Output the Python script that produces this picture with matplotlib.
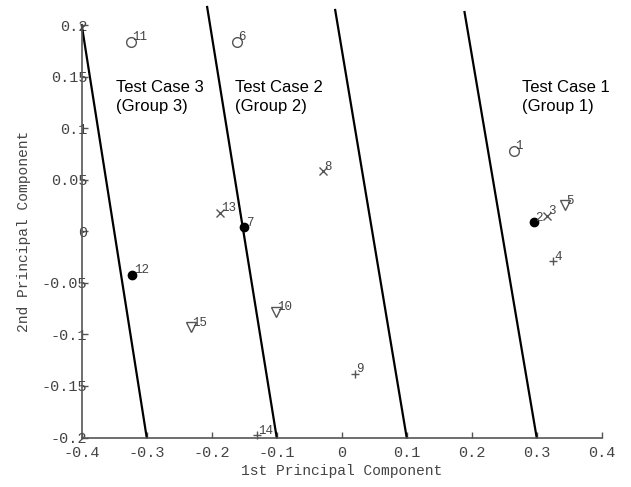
import matplotlib
matplotlib.use('Agg')
import matplotlib.pyplot as plt

# sample scores (1st PC, 2nd PC)
ids = ['1', '2', '3', '4', '5', '6', '7', '8', '9', '10', '11', '12', '13', '14', '15']
pc1 = [0.265, 0.296, 0.316, 0.325, 0.344, -0.161, -0.150, -0.029, 0.020,
       -0.101, -0.324, -0.322, -0.187, -0.130, -0.232]
pc2 = [0.078, 0.009, 0.015, -0.029, 0.025, 0.184, 0.004, 0.058, -0.138,
       -0.078, 0.184, -0.042, 0.018, -0.198, -0.093]
kinds = ['o', '.', 'x', '+', 'v', 'o', '.', 'x', '+', 'v', 'o', '.', 'x', '+', 'v']

# separating lines: bottom end and top end
line_x0 = [-0.3, -0.1, 0.1, 0.3]
line_y0 = [-0.2, -0.2, -0.2, -0.2]
line_x1 = [-0.4, -0.207, -0.010, 0.189]
line_y1 = [0.2, 0.2175, 0.2146, 0.2126]

case_labels = ['Test Case 3\n(Group 3)', 'Test Case 2\n(Group 2)', 'Test Case 1\n(Group 1)']
case_x = [-0.347, -0.164, 0.277]
case_y = [0.130, 0.130, 0.130]

mono = ['Liberation Mono', 'DejaVu Sans Mono']
grey = '#555555'

fig = plt.figure(figsize=(6.31, 4.87), dpi=100)
ax = fig.add_axes([0.1295, 0.1016, 0.824, 0.847])

for x, y, k, s in zip(pc1, pc2, kinds, ids):
    if k == 'o':
        ax.plot(x, y, 'o', ms=7, mfc='none', mec=grey, mew=1.0, clip_on=False)
    elif k == '.':
        ax.plot(x, y, 'o', ms=6, color='black', clip_on=False)
    elif k == 'v':
        ax.plot(x, y, 'v', ms=7, mfc='none', mec=grey, mew=1.0, clip_on=False)
    else:
        ax.plot(x, y, k, ms=6, color=grey, mew=1.0, clip_on=False)
    ax.annotate(s, (x, y), xytext=(1, 1), textcoords='offset points',
                fontsize=9, family=mono, color='#444444')

for a, b, c, d in zip(line_x0, line_y0, line_x1, line_y1):
    ax.plot([a, c], [b, d], color='black', lw=1.6, clip_on=False)

for t, x, y in zip(case_labels, case_x, case_y):
    ax.text(x, y, t, fontsize=12, family=['Liberation Sans Narrow', 'Liberation Sans'],
            va='center', ha='left', linespacing=1.35)

ax.set_xlim(-0.4, 0.4)
ax.set_ylim(-0.2, 0.2)
ax.set_xticks([-0.4, -0.3, -0.2, -0.1, 0, 0.1, 0.2, 0.3, 0.4])
ax.set_xticklabels(['-0.4', '-0.3', '-0.2', '-0.1', '0', '0.1', '0.2', '0.3', '0.4'])
ax.set_yticks([-0.2, -0.15, -0.1, -0.05, 0, 0.05, 0.1, 0.15, 0.2])
ax.set_yticklabels(['-0.2', '-0.15', '-0.1', '-0.05', '0', '0.05', '0.1', '0.15', '0.2'])
for sp in ['top', 'right']:
    ax.spines[sp].set_visible(False)
for sp in ['left', 'bottom']:
    ax.spines[sp].set_color(grey)
    ax.spines[sp].set_linewidth(1.2)
ax.tick_params(direction='in', length=4, width=1, color=grey, labelcolor='#444444',
               labelsize=11)
ax.tick_params(axis='y', pad=-4)
ax.tick_params(axis='x', pad=6)
for lab in ax.get_xticklabels() + ax.get_yticklabels():
    lab.set_family(mono)
ax.set_xlabel('1st Principal Component', family=mono, fontsize=10.5, color='#444444', labelpad=3)
ax.set_ylabel('2nd Principal Component', family=mono, fontsize=10.5, color='#444444', labelpad=8)

fig.savefig('out.png', dpi=100)
